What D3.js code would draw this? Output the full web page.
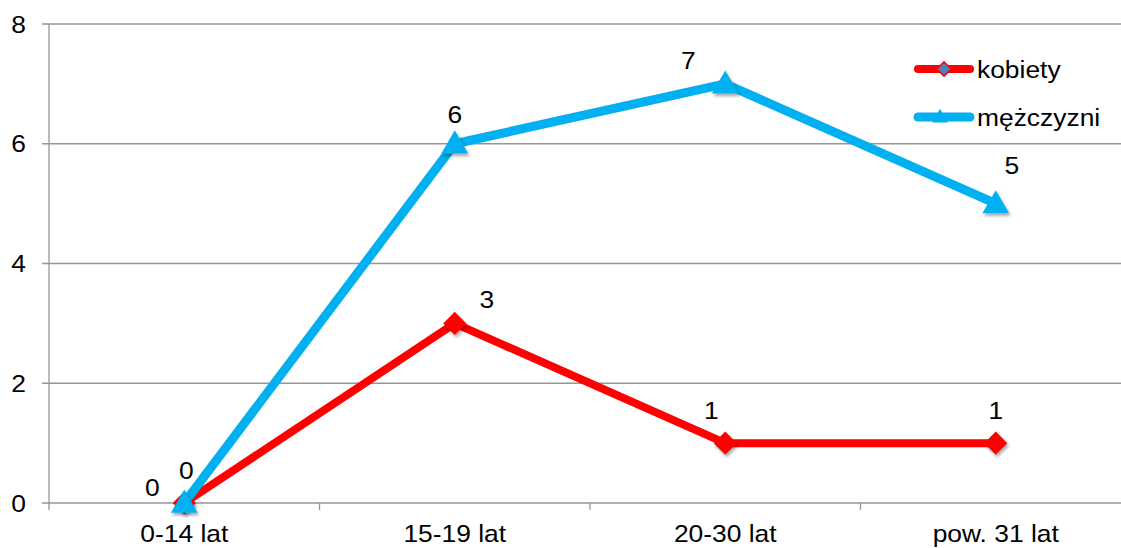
<!DOCTYPE html>
<html>
<head>
<meta charset="UTF-8">
<script src="https://cdn.jsdelivr.net/npm/d3@7/dist/d3.min.js"></script>
<style>
  body { margin: 0; background: #fff; }
  text { font-family: "Liberation Sans", Arial, sans-serif; fill: #000; font-size: 24px; }
</style>
</head>
<body>
<div id="chart"></div>
<script>
// data
var categories = ["0-14 lat", "15-19 lat", "20-30 lat", "pow. 31 lat"];
var kobiety = [0, 3, 1, 1];
var mezczyzni = [0, 6, 7, 5];
var yTicks = [0, 2, 4, 6, 8];

var width = 1121, height = 548;
var margin = {top: 24, left: 49, bottom: 45};
var plotW = 270.5 * 4;
var stretch = 1.1; // text in the original is slightly wide

var svg = d3.select("#chart").append("svg")
    .attr("width", width)
    .attr("height", height);

var defs = svg.append("defs");
var f = defs.append("filter").attr("id", "shadow")
    .attr("x", "-50%").attr("y", "-50%").attr("width", "200%").attr("height", "200%");
f.append("feDropShadow").attr("dx", 1.5).attr("dy", 2.5).attr("stdDeviation", 1.5)
    .attr("flood-color", "#000").attr("flood-opacity", 0.35);

// wide text helper
function label(parent, tx, ty, str, anchor) {
  parent.append("text")
    .attr("transform", "translate(" + tx + "," + ty + ") scale(" + stretch + ",1)")
    .attr("text-anchor", anchor || "middle")
    .text(str);
}

var x = d3.scaleBand().domain(categories).range([margin.left, margin.left + plotW]);
var y = d3.scaleLinear().domain([0, 8]).range([height - margin.bottom, margin.top]);

// gridlines
svg.append("g").selectAll("line")
    .data(yTicks).enter().append("line")
    .attr("x1", margin.left - 7).attr("x2", width)
    .attr("y1", function(d) { return y(d); })
    .attr("y2", function(d) { return y(d); })
    .attr("stroke", "#969696").attr("stroke-width", 1.3);

// y axis line
svg.append("line")
    .attr("x1", margin.left).attr("x2", margin.left)
    .attr("y1", y(8)).attr("y2", y(0) + 7)
    .attr("stroke", "#969696").attr("stroke-width", 1.3);

// x ticks at band boundaries
svg.append("g").selectAll("line")
    .data(categories.slice(1)).enter().append("line")
    .attr("x1", function(d) { return x(d); })
    .attr("x2", function(d) { return x(d); })
    .attr("y1", y(0)).attr("y2", y(0) + 7)
    .attr("stroke", "#969696").attr("stroke-width", 1.3);

// y tick labels
var gy = svg.append("g");
yTicks.forEach(function(d) { label(gy, 26, y(d) + 8.5, d, "end"); });

// x labels
var gx = svg.append("g");
categories.forEach(function(c) { label(gx, x(c) + x.bandwidth() / 2, y(0) + 39, c); });

var cx = function(d, i) { return x(categories[i]) + x.bandwidth() / 2; };
var line = d3.line().x(cx).y(function(d) { return y(d); });

var series = [
  {name: "kobiety", values: kobiety, color: "#ff0000", width: 8, marker: "diamond",
   nudge: [[-32, -7], [32, -15], [-14, -24], [0, -24]]},
  {name: "mężczyzni", values: mezczyzni, color: "#00b0f0", width: 9, marker: "triangle",
   nudge: [[2, -24], [0, -21], [-37, -15], [16, -30]]}
];

var diamond = d3.symbol().type(d3.symbolDiamond2).size(340);
var triangle = d3.symbol().type(d3.symbolTriangle).size(310);

series.forEach(function(s) {
  var g = svg.append("g");
  g.append("path")
    .attr("d", line(s.values))
    .attr("fill", "none")
    .attr("stroke", s.color)
    .attr("stroke-width", s.width)
    .attr("stroke-linejoin", "round");
  g.selectAll("path.m")
    .data(s.values).enter().append("path")
    .attr("class", "m")
    .attr("d", s.marker == "diamond" ? diamond : triangle)
    .attr("transform", function(d, i) { return "translate(" + cx(d, i) + "," + (y(d) + (s.marker == "triangle" ? 2 : 0)) + ")"; })
    .attr("fill", s.color)
    .attr("filter", "url(#shadow)");
});

// data labels drawn on top
series.forEach(function(s) {
  var gl = svg.append("g");
  s.values.forEach(function(d, i) {
    label(gl, cx(d, i) + s.nudge[i][0], y(d) + s.nudge[i][1], d);
  });
});

// legend
var legend = svg.append("g");
var legY = [69, 117];
series.forEach(function(s, i) {
  var ly = legY[i];
  legend.append("line")
    .attr("x1", 918).attr("x2", 970)
    .attr("y1", ly).attr("y2", ly)
    .attr("stroke", s.color).attr("stroke-width", s.width)
    .attr("stroke-linecap", "round");
  if (s.marker == "diamond") {
    legend.append("path")
      .attr("d", d3.symbol().type(d3.symbolDiamond2).size(130))
      .attr("transform", "translate(944," + ly + ")")
      .attr("fill", "#4f81bd").attr("stroke", "#ff0000").attr("stroke-width", 1.5);
  } else {
    legend.append("path")
      .attr("d", d3.symbol().type(d3.symbolTriangle).size(110))
      .attr("transform", "translate(940," + (ly + 1) + ")")
      .attr("fill", s.color);
  }
  label(legend, 977, ly + 8.5, s.name, "start");
});
</script>
</body>
</html>
